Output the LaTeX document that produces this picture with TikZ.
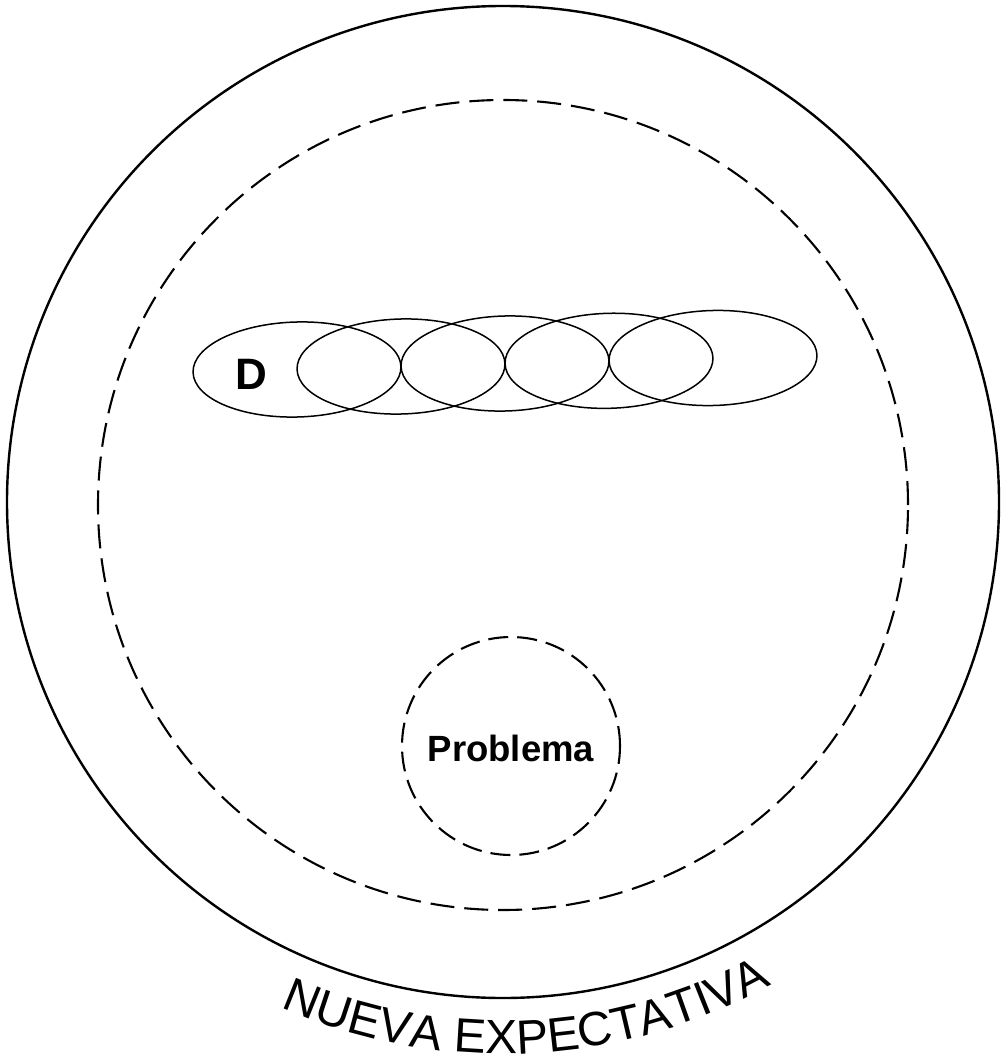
\documentclass[tikz,border=0pt]{standalone}
\usepackage{fontspec}
\setmainfont{Liberation Sans}
\usetikzlibrary{shapes.geometric,decorations.text}
\tikzset{
  ring/.style={circle, draw, inner sep=0pt, line width=2.4pt},
  dashring/.style={circle, draw, inner sep=0pt, line width=2.1pt, dash pattern=on 24pt off 10pt},
  smalldash/.style={circle, draw, inner sep=0pt, line width=2.1pt, dash pattern=on 20pt off 9pt},
  loop/.style={ellipse, draw, inner sep=0pt, line width=1.5pt, minimum width=208pt, minimum height=95pt, rotate=1.6},
  boldlabel/.style={inner sep=0pt, font=\bfseries}
}
\begin{document}
\begin{tikzpicture}[x=1pt,y=1pt]
\useasboundingbox (0,0) rectangle (1001,-1064);
\fill[white] (0,0) rectangle (1001,-1064);
\node[ring, minimum size=992pt] (outer) at (503,-502) {};
\node[dashring, minimum size=810pt] (inner) at (503,-505) {};
\node[smalldash, minimum size=218pt] (prob) at (511,-746) {};
\node[boldlabel, font=\bfseries\fontsize{36.5}{40}\selectfont] (problabel) at (511,-748) {Problema};
\node[loop] (e1) at (297,-369.5) {};
\node[loop] (e2) at (401,-366.5) {};
\node[loop] (e3) at (505,-363.5) {};
\node[loop] (e4) at (609,-360.8) {};
\node[loop] (e5) at (713,-358) {};
\node[boldlabel, font=\bfseries\fontsize{44}{48}\selectfont] (dlabel) at (251,-374) {D};
\coordinate (tc) at (503,-502);
\path[decorate, decoration={text along path, text align=center,
  text format delimiters={|}{|},
  text={|\fontsize{48}{52}\selectfont|NUEVA EXPECTATIVA}}]
  (tc) ++(232.7:552) arc[start angle=232.7, end angle=312.7, radius=552];
\end{tikzpicture}
\end{document}
